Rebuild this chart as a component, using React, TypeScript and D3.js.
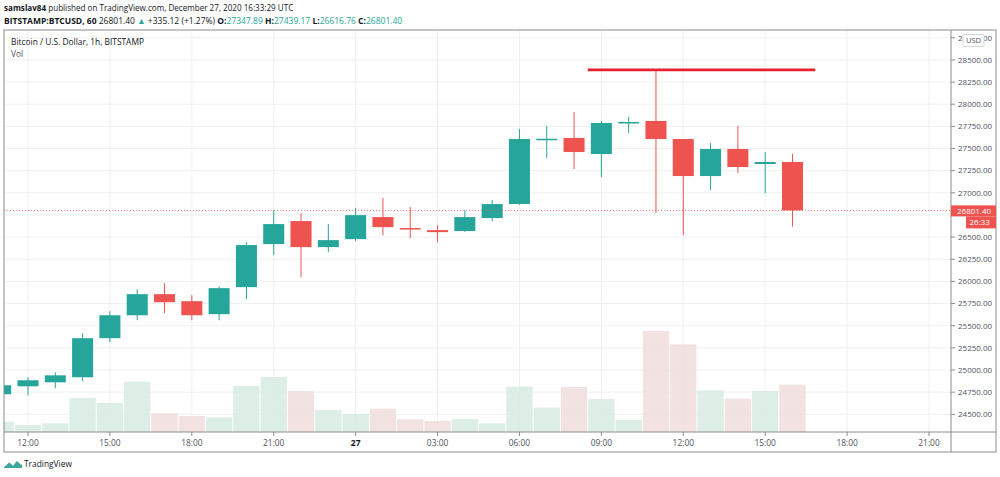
import React from "react";
import * as d3 from "d3";

// hourly candles, BITSTAMP:BTCUSD
const times = [
  "2020-12-26T11:00:00Z", "2020-12-26T12:00:00Z", "2020-12-26T13:00:00Z", "2020-12-26T14:00:00Z",
  "2020-12-26T15:00:00Z", "2020-12-26T16:00:00Z", "2020-12-26T17:00:00Z", "2020-12-26T18:00:00Z",
  "2020-12-26T19:00:00Z", "2020-12-26T20:00:00Z", "2020-12-26T21:00:00Z", "2020-12-26T22:00:00Z",
  "2020-12-26T23:00:00Z", "2020-12-27T00:00:00Z", "2020-12-27T01:00:00Z", "2020-12-27T02:00:00Z",
  "2020-12-27T03:00:00Z", "2020-12-27T04:00:00Z", "2020-12-27T05:00:00Z", "2020-12-27T06:00:00Z",
  "2020-12-27T07:00:00Z", "2020-12-27T08:00:00Z", "2020-12-27T09:00:00Z", "2020-12-27T10:00:00Z",
  "2020-12-27T11:00:00Z", "2020-12-27T12:00:00Z", "2020-12-27T13:00:00Z", "2020-12-27T14:00:00Z",
  "2020-12-27T15:00:00Z", "2020-12-27T16:00:00Z",
];
const opens = [
  24726, 24816, 24861, 24918, 25359, 25618, 25856, 25777, 25630, 25935, 26421, 26681, 26387, 26477, 26726,
  26602, 26579, 26568, 26715, 26873, 27600, 27619, 27438, 27788, 27811, 27607, 27189, 27494, 27325, 27347.89,
];
const highs = [
  24845, 24918, 24974, 25415, 25664, 25912, 25980, 25844, 25946, 26443, 26805, 26771, 26647, 26828, 26941,
  26839, 26635, 26805, 26918, 27720, 27754, 27912, 27811, 27856, 28387, 27607, 27562, 27754, 27460, 27439.17,
];
const lows = [
  24700, 24714, 24794, 24873, 25313, 25562, 25641, 25562, 25562, 25799, 26297, 26048, 26330, 26455, 26522,
  26489, 26443, 26560, 26681, 26865, 27393, 27268, 27178, 27675, 26771, 26522, 27031, 27223, 26997, 26616.76,
];
const closes = [
  24828, 24884, 24940, 25359, 25618, 25856, 25765, 25618, 25924, 26410, 26647, 26387, 26466, 26748, 26613,
  26585, 26556, 26726, 26873, 27607, 27610, 27460, 27788, 27799, 27607, 27189, 27494, 27291, 27348, 26801.4,
];
const volumes = [
  206, 140, 174, 680, 580, 1006, 374, 320, 294, 920, 1100, 820, 440, 360, 466,
  254, 220, 260, 174, 906, 486, 900, 660, 240, 2020, 1754, 834, 666, 820, 946,
];

const priceTicks = [
  24500, 24750, 25000, 25250, 25500, 25750, 26000, 26250, 26500, 26750, 27000, 27250, 27500, 27750, 28000,
  28250, 28500, 28750,
];
// labels hidden under the last-price badges
const hiddenPriceLabels = [26750];
const timeTicks = [
  "2020-12-26T12:00:00Z", "2020-12-26T15:00:00Z", "2020-12-26T18:00:00Z", "2020-12-26T21:00:00Z",
  "2020-12-27T00:00:00Z", "2020-12-27T03:00:00Z", "2020-12-27T06:00:00Z", "2020-12-27T09:00:00Z",
  "2020-12-27T12:00:00Z", "2020-12-27T15:00:00Z", "2020-12-27T18:00:00Z", "2020-12-27T21:00:00Z",
];
const timeTickLabels = ["12:00", "15:00", "18:00", "21:00", "27", "03:00", "06:00", "09:00", "12:00", "15:00", "18:00", "21:00"];

// horizontal line drawn by the author
const drawnLevel = 28387;
const drawnFrom = "2020-12-27T08:30:00Z";
const drawnTo = "2020-12-27T16:50:00Z";

const lastPrice = 26801.4;
const countdown = "26:33";

const UP = "#26a69a";
const DOWN = "#ef5350";
const VOL_UP = "#d6ebe2";
const VOL_DOWN = "#f0dddd";
const GRID = "#eef0f3";
const BORDER = "#8c8c8c";
const TEXT = "#50535e";
const FONT = "'Open Sans', sans-serif";

const W = 1000, H = 477;
const paneL = 4, paneT = 30, paneR = 951, axisR = 996, timeY = 432, bottomY = 452;

export default function App() {
  const x = d3
    .scaleUtc()
    .domain([new Date(timeTicks[0]), new Date(timeTicks[timeTicks.length - 1])])
    .range([28, 929]);
  const y = d3.scaleLinear().domain([24500, 28500]).range([414.3, 59.9]);
  const vy = d3.scaleLinear().domain([0, 3000]).range([timeY, timeY - 150]);

  const step = x(new Date(times[1])) - x(new Date(times[0]));
  const bodyW = step * 0.77;

  const candles = times.map((t, i) => ({
    t: new Date(t),
    o: opens[i],
    h: highs[i],
    l: lows[i],
    c: closes[i],
    v: volumes[i],
    up: closes[i] >= opens[i],
  }));

  const fmt = d3.format(".2f");

  return (
    <svg
      width={W}
      height={H}
      style={{ position: "absolute", left: 0, top: 0, background: "#fff" }}
      fontFamily={FONT}
    >
      <defs>
        <clipPath id="pane">
          <rect x={paneL} y={paneT} width={paneR - paneL} height={timeY - paneT} />
        </clipPath>
      </defs>

      {/* header */}
      <text x={4} y={11} fontSize={8.1} fill="#131722">
        <tspan fontWeight="bold">samslav84</tspan>
        <tspan>{" published on TradingView.com, December 27, 2020 16:33:29 UTC"}</tspan>
      </text>
      <text x={4} y={24} fontSize={8.5} fill="#131722">
        <tspan fontWeight="bold">BITSTAMP:BTCUSD, 60</tspan>
        <tspan>{"  26801.40 "}</tspan>
        <tspan fill={UP}>▲</tspan>
        <tspan>{" +335.12 (+1.27%) "}</tspan>
        <tspan fontWeight="bold">O:</tspan>
        <tspan fill={UP}>27347.89</tspan>
        <tspan fontWeight="bold">{" H:"}</tspan>
        <tspan fill={UP}>27439.17</tspan>
        <tspan fontWeight="bold">{" L:"}</tspan>
        <tspan fill={UP}>26616.76</tspan>
        <tspan fontWeight="bold">{" C:"}</tspan>
        <tspan fill={UP}>26801.40</tspan>
      </text>

      {/* grid */}
      <g clipPath="url(#pane)">
        {priceTicks.map((p) => (
          <line key={p} x1={paneL} x2={paneR} y1={y(p)} y2={y(p)} stroke={GRID} />
        ))}
        {timeTicks.map((t) => (
          <line key={t} x1={x(new Date(t))} x2={x(new Date(t))} y1={paneT} y2={timeY} stroke={GRID} />
        ))}
      </g>

      {/* volume */}
      <g clipPath="url(#pane)">
        {candles.map((d, i) => (
          <rect
            key={i}
            x={x(d.t) - step / 2 + 0.5}
            width={step - 1}
            y={vy(d.v)}
            height={timeY - vy(d.v)}
            fill={d.up ? VOL_UP : VOL_DOWN}
            fillOpacity={0.85}
          />
        ))}
      </g>

      {/* candles */}
      <g clipPath="url(#pane)">
        {candles.map((d, i) => {
          const col = d.up ? UP : DOWN;
          const top = y(Math.max(d.o, d.c));
          const bot = y(Math.min(d.o, d.c));
          return (
            <g key={i}>
              <line x1={x(d.t)} x2={x(d.t)} y1={y(d.h)} y2={y(d.l)} stroke={col} strokeWidth={1} />
              <rect
                x={x(d.t) - bodyW / 2}
                width={bodyW}
                y={top}
                height={Math.max(1.5, bot - top)}
                fill={col}
              />
            </g>
          );
        })}
        {/* last price line */}
        <line
          x1={paneL}
          x2={paneR}
          y1={y(lastPrice)}
          y2={y(lastPrice)}
          stroke={DOWN}
          strokeWidth={0.8}
          strokeDasharray="1 2"
        />
        {/* drawn level */}
        <line
          x1={x(new Date(drawnFrom))}
          x2={x(new Date(drawnTo))}
          y1={y(drawnLevel)}
          y2={y(drawnLevel)}
          stroke="#e8212e"
          strokeWidth={2.6}
        />
      </g>

      {/* pane texts */}
      <text x={11} y={45} fontSize={8.4} fill="#131722">
        Bitcoin / U.S. Dollar, 1h, BITSTAMP
      </text>
      <text x={11} y={57} fontSize={8.4} fill={TEXT}>
        Vol
      </text>

      {/* frame */}
      <rect x={paneL} y={paneT} width={axisR - paneL} height={bottomY - paneT} fill="none" stroke={BORDER} />
      <line x1={paneR} x2={paneR} y1={paneT} y2={bottomY} stroke={BORDER} />
      <line x1={paneL} x2={axisR} y1={timeY} y2={timeY} stroke={BORDER} />

      {/* price axis */}
      {priceTicks.map((p) => (
        <g key={p} transform={`translate(${paneR},${y(p)})`}>
          <line x1={0} x2={4} stroke={BORDER} />
          {hiddenPriceLabels.includes(p) ? null : (
            <text x={7} dy="0.35em" fontSize={8} fill={TEXT}>
              {fmt(p)}
            </text>
          )}
        </g>
      ))}
      <rect x={963} y={34.5} width={21} height={12} fill="#fff" stroke="#d6d6d6" rx={1} />
      <text x={973.5} y={40.5} dy="0.35em" textAnchor="middle" fontSize={7.6} fill={TEXT}>
        USD
      </text>

      <rect x={paneR} y={y(lastPrice) - 5} width={axisR - paneR} height={11} fill={DOWN} />
      <text x={paneR + 6} y={y(lastPrice) + 0.5} dy="0.35em" fontSize={8} fill="#fff">
        {fmt(lastPrice)}
      </text>
      <rect x={966} y={y(lastPrice) + 6} width={axisR - 966} height={12} fill={DOWN} />
      <text x={969.5} y={y(lastPrice) + 12} dy="0.35em" fontSize={8} fill="#fff">
        {countdown}
      </text>

      {/* time axis */}
      {timeTicks.map((t, i) => (
        <g key={t} transform={`translate(${x(new Date(t))},${timeY})`}>
          <line y1={0} y2={4} stroke={BORDER} />
          <text
            y={11}
            dy="0.35em"
            textAnchor="middle"
            fontSize={8.4}
            fontWeight={timeTickLabels[i] === "27" ? "bold" : "normal"}
            fill={timeTickLabels[i] === "27" ? "#131722" : TEXT}
          >
            {timeTickLabels[i]}
          </text>
        </g>
      ))}

      {/* footer logo */}
      <g transform="translate(4,458)">
        <path
          d="M0 9 L5 3.5 L9 7 L13 2 L18 6.5 L18 10 L0 10 Z"
          fill="#3ba7a0"
        />
        <path d="M0.5 8 L5 3.5 L9 7 L13 2 L17.5 6.5" fill="none" stroke="#ffffff" strokeWidth={1.2} />
      </g>
      <text x={24} y={467} fontSize={8.4} fill="#131722">
        TradingView
      </text>
    </svg>
  );
}
